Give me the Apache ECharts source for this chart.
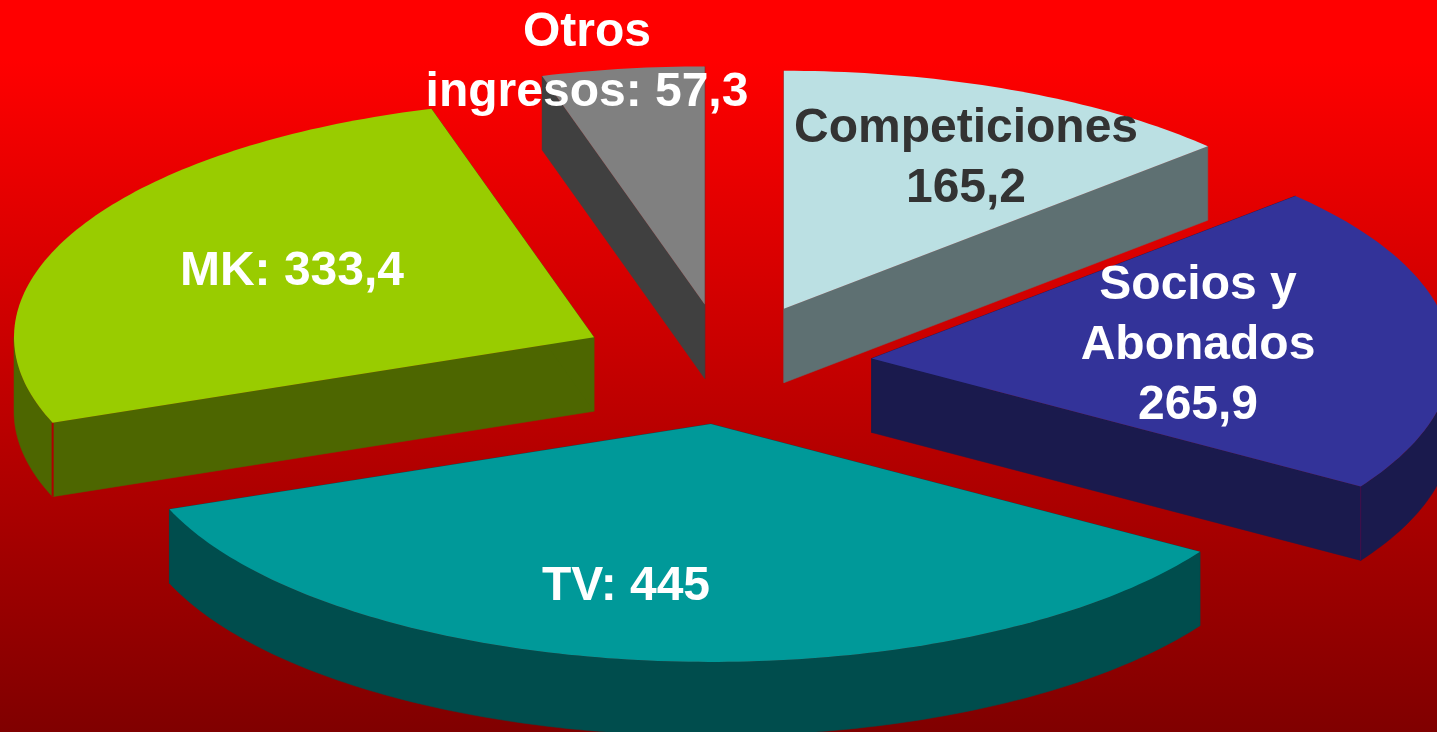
<!DOCTYPE html>
<html>
<head>
<meta charset="utf-8">
<style>html,body{margin:0;padding:0;background:#c00}#c{width:1437px;height:732px}</style>
<script src="https://cdn.jsdelivr.net/npm/echarts@6/dist/echarts.min.js"></script>
</head>
<body>
<div id="c"></div>
<script>
// Data, clockwise from 12 o'clock
var categories = ['Competiciones', 'Socios y Abonados', 'TV', 'MK', 'Otros ingresos'];
var values = [165.2, 265.9, 445, 333.4, 57.3];
var labelTexts = ['Competiciones\n165,2', 'Socios y\nAbonados\n265,9', 'TV: 445', 'MK: 333,4', 'Otros\ningresos: 57,3'];

// Styles and layout
var topColors = ['#bbe0e3', '#333399', '#009999', '#99cc00', '#808080'];
var sideColors = ['#5e7072', '#1a1a4d', '#004d4d', '#4d6600', '#404040'];
var seamColors = [null, 'rgba(110,0,80,0.45)', null, '#b00000', null];
var labelColors = ['#333333', '#ffffff', '#ffffff', '#ffffff', '#ffffff'];
var labelCenters = [[966, 159], [1198, 346], [626, 587], [292, 272], [587, 63]];
var pie = { cx: 725.5, cy: 364, rx: 580, ry: 238, depth: 74, explode: 0.253 };

var total = values.reduce(function (a, b) { return a + b; }, 0);
var starts = [];
values.reduce(function (acc, v) { starts.push(acc); return acc + v; }, 0);

function ang(v) { return v / total * Math.PI * 2; }

function sliceItem(params, api) {
  var idx = params.dataIndex;
  var start = ang(api.value(1));
  var sweep = ang(api.value(0));
  var mid = start + sweep / 2;
  var ax = pie.cx + Math.sin(mid) * pie.explode * pie.rx;
  var ay = pie.cy - Math.cos(mid) * pie.explode * pie.ry;
  function arc(from, to) {
    var out = [];
    var n = Math.max(2, Math.ceil((to - from) / (Math.PI / 180)));
    for (var i = 0; i <= n; i++) {
      var a = from + (to - from) * i / n;
      out.push([ax + Math.sin(a) * pie.rx, ay - Math.cos(a) * pie.ry]);
    }
    return out;
  }
  function down(p) { return [p[0], p[1] + pie.depth]; }
  function sideShape(points) {
    return {
      type: 'polygon',
      shape: { points: points },
      style: { fill: sideColors[idx], stroke: sideColors[idx], lineWidth: 0.5 }
    };
  }
  var pts = arc(start, start + sweep);
  var outline = [[ax, ay]].concat(pts);
  var first = pts[0], last = pts[pts.length - 1];
  var children = [
    sideShape([[ax, ay], first, down(first), down([ax, ay])]),
    sideShape([[ax, ay], last, down(last), down([ax, ay])])
  ];
  // only the front half of the outer rim faces the viewer
  var from = Math.max(start, Math.PI / 2);
  var to = Math.min(start + sweep, Math.PI * 1.5);
  if (to > from) {
    var front = arc(from, to);
    children.push(sideShape(front.concat(front.slice().reverse().map(down))));
  }
  if (seamColors[idx]) {
    var corner = idx === 3 ? first : last;
    children.push({
      type: 'line',
      shape: { x1: corner[0], y1: corner[1], x2: corner[0], y2: corner[1] + pie.depth },
      style: { stroke: seamColors[idx], lineWidth: idx === 3 ? 2 : 1 }
    });
  }
  children.push({
    type: 'polygon',
    shape: { points: outline },
    style: { fill: topColors[idx] }
  });
  return { type: 'group', children: children };
}

function labelItem(params, api) {
  var c = labelCenters[params.dataIndex];
  return {
    type: 'text',
    x: c[0],
    y: c[1],
    style: {
      text: labelTexts[params.dataIndex],
      fill: labelColors[params.dataIndex],
      font: 'bold 48px "Liberation Sans", Arial, sans-serif',
      lineHeight: 60,
      align: 'center',
      verticalAlign: 'middle'
    }
  };
}

var rows = values.map(function (v, i) { return [v, starts[i], categories[i]]; });
var chart = echarts.init(document.getElementById('c'), null, { renderer: 'canvas' });
chart.setOption({
  animation: false,
  backgroundColor: {
    type: 'linear', x: 0, y: 0, x2: 0, y2: 1,
    colorStops: [{ offset: 0, color: '#ff0000' }, { offset: 0.08, color: '#ff0000' }, { offset: 1, color: '#800000' }]
  },
  series: [
    { type: 'custom', coordinateSystem: 'none', renderItem: sliceItem, data: rows, silent: true, z: 1 },
    { type: 'custom', coordinateSystem: 'none', renderItem: labelItem, data: rows, silent: true, z: 2 }
  ]
});
</script>
</body>
</html>
